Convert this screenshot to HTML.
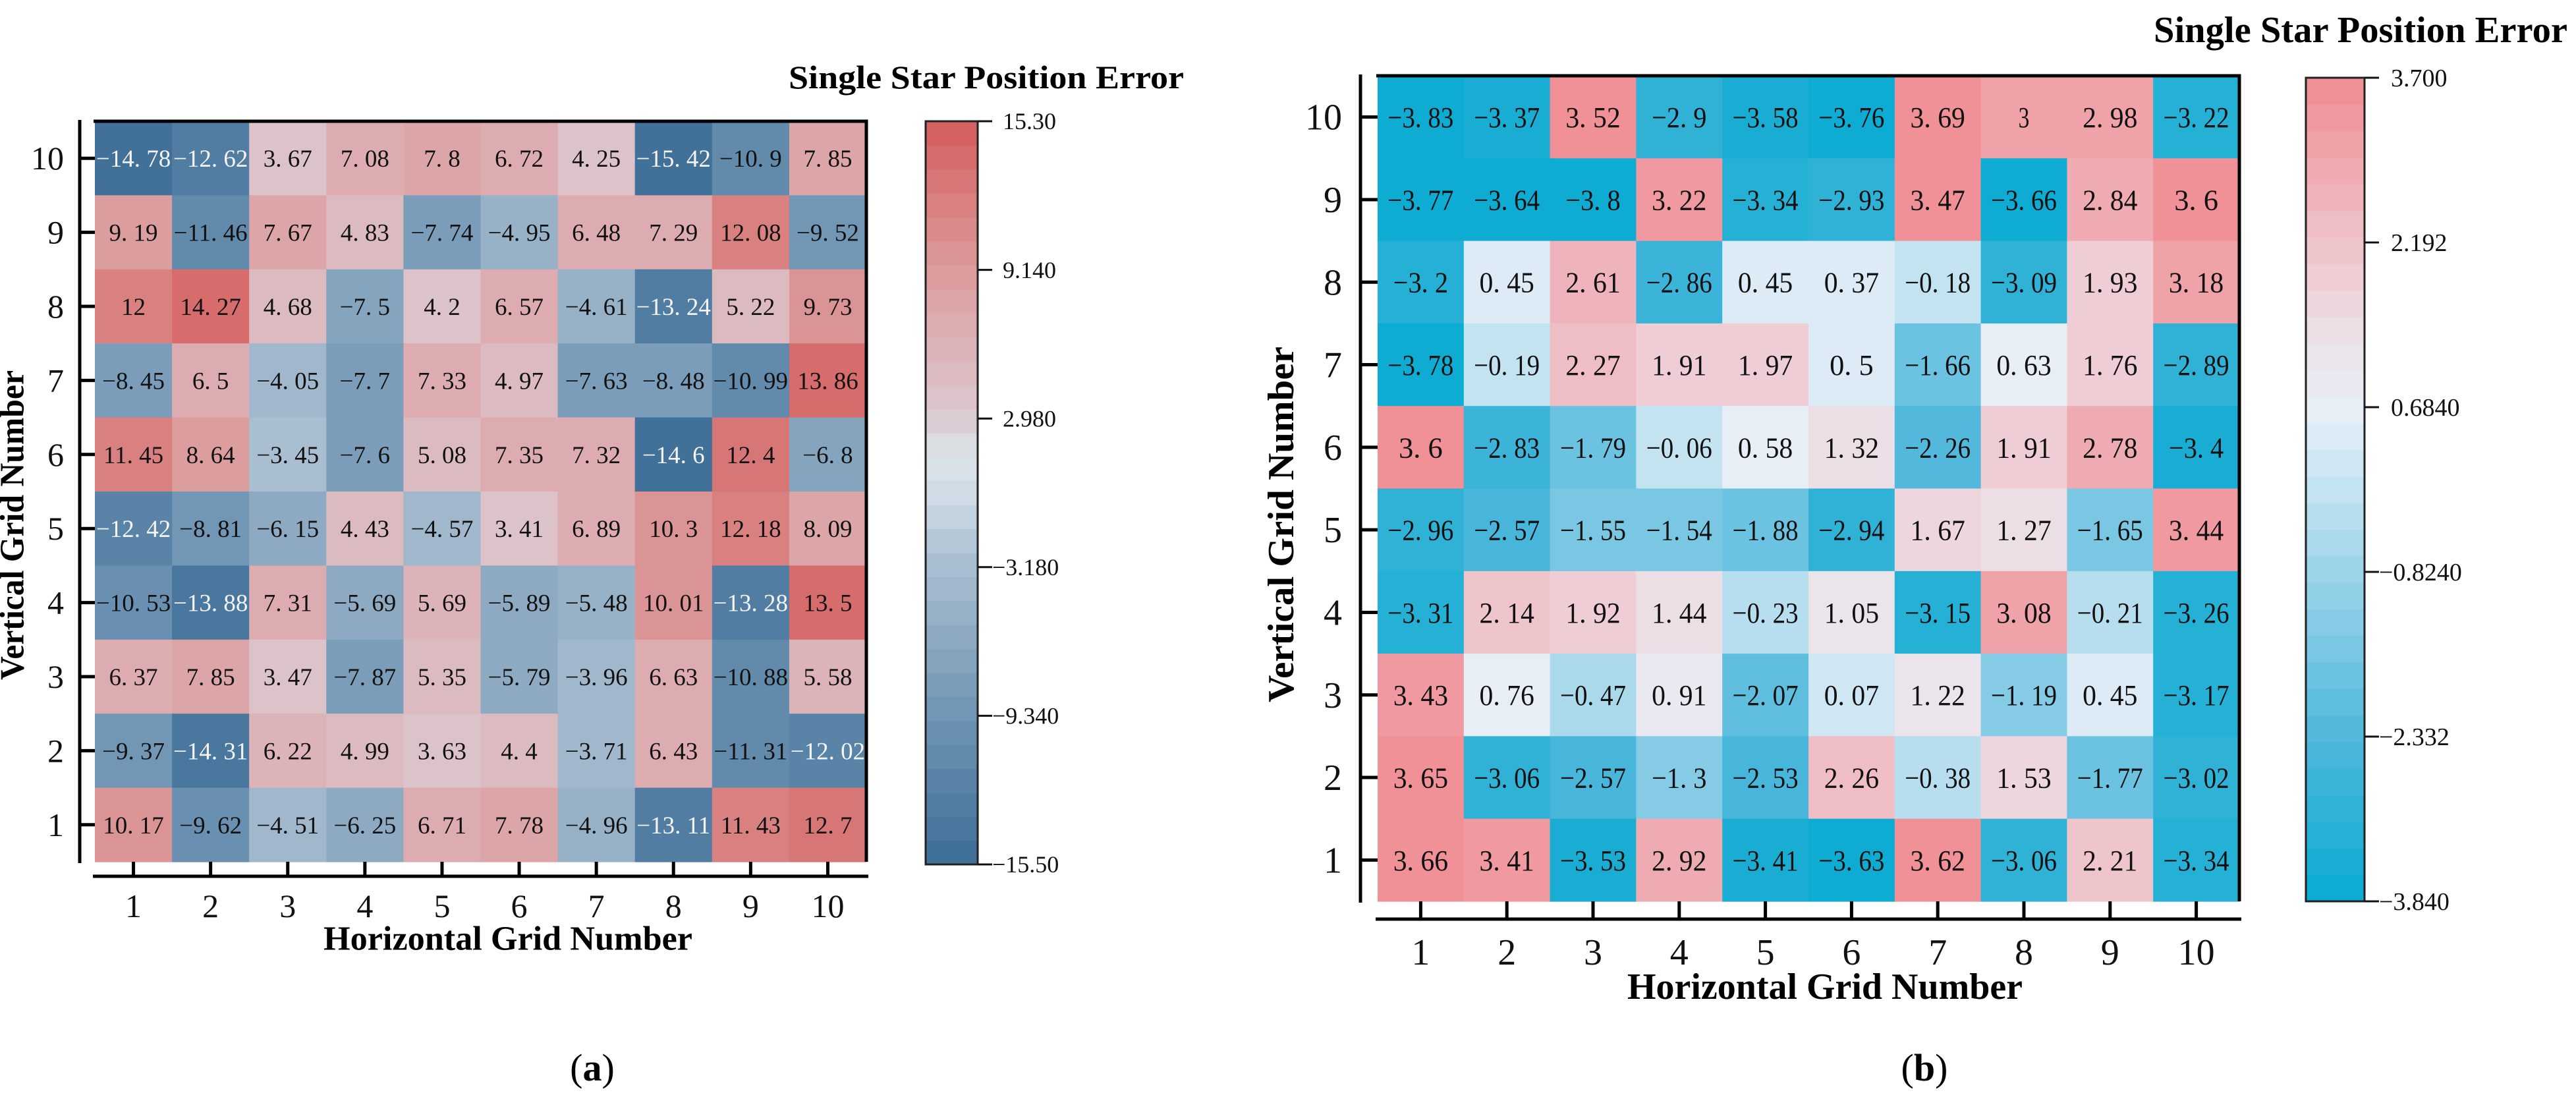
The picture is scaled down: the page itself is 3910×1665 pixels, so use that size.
<!DOCTYPE html>
<html><head><meta charset="utf-8"><style>
html,body{margin:0;padding:0;background:#fff;}
svg{display:block;}
text{font-family:"Liberation Serif",serif;}
</style></head><body>
<svg id="fig" width="3910" height="1665" viewBox="0 0 3910 1665" xmlns="http://www.w3.org/2000/svg">
<g id="chartA"></g>
<g id="chartB"></g>
</svg>
<script>
// ---- Chart (a) data: rows listed from vertical grid 10 down to 1 ----
const colsA = [1,2,3,4,5,6,7,8,9,10];
const rowsA = [10,9,8,7,6,5,4,3,2,1];
const valuesA = [
[-14.78,-12.62,3.67,7.08,7.8,6.72,4.25,-15.42,-10.9,7.85],
[9.19,-11.46,7.67,4.83,-7.74,-4.95,6.48,7.29,12.08,-9.52],
[12,14.27,4.68,-7.5,4.2,6.57,-4.61,-13.24,5.22,9.73],
[-8.45,6.5,-4.05,-7.7,7.33,4.97,-7.63,-8.48,-10.99,13.86],
[11.45,8.64,-3.45,-7.6,5.08,7.35,7.32,-14.6,12.4,-6.8],
[-12.42,-8.81,-6.15,4.43,-4.57,3.41,6.89,10.3,12.18,8.09],
[-10.53,-13.88,7.31,-5.69,5.69,-5.89,-5.48,10.01,-13.28,13.5],
[6.37,7.85,3.47,-7.87,5.35,-5.79,-3.96,6.63,-10.88,5.58],
[-9.37,-14.31,6.22,4.99,3.63,4.4,-3.71,6.43,-11.31,-12.02],
[10.17,-9.62,-4.51,-6.25,6.71,7.78,-4.96,-13.11,11.43,12.7]
];
const cbTicksA = [15.30,9.140,2.980,-3.180,-9.340,-15.50];
const cbLabelsA = ["15.30","9.140","2.980","\u22123.180","\u22129.340","\u221215.50"];

// ---- Chart (b) data ----
const colsB = [1,2,3,4,5,6,7,8,9,10];
const rowsB = [10,9,8,7,6,5,4,3,2,1];
const valuesB = [
[-3.83,-3.37,3.52,-2.9,-3.58,-3.76,3.69,3,2.98,-3.22],
[-3.77,-3.64,-3.8,3.22,-3.34,-2.93,3.47,-3.66,2.84,3.6],
[-3.2,0.45,2.61,-2.86,0.45,0.37,-0.18,-3.09,1.93,3.18],
[-3.78,-0.19,2.27,1.91,1.97,0.5,-1.66,0.63,1.76,-2.89],
[3.6,-2.83,-1.79,-0.06,0.58,1.32,-2.26,1.91,2.78,-3.4],
[-2.96,-2.57,-1.55,-1.54,-1.88,-2.94,1.67,1.27,-1.65,3.44],
[-3.31,2.14,1.92,1.44,-0.23,1.05,-3.15,3.08,-0.21,-3.26],
[3.43,0.76,-0.47,0.91,-2.07,0.07,1.22,-1.19,0.45,-3.17],
[3.65,-3.06,-2.57,-1.3,-2.53,2.26,-0.38,1.53,-1.77,-3.02],
[3.66,3.41,-3.53,2.92,-3.41,-3.63,3.62,-3.06,2.21,-3.34]
];
const cbTicksB = [3.700,2.192,0.6840,-0.8240,-2.332,-3.840];
const cbLabelsB = ["3.700","2.192","0.6840","\u22120.8240","\u22122.332","\u22123.840"];

const NS = "http://www.w3.org/2000/svg";
function mk(parent, tag, attrs){
  const e = document.createElementNS(NS, tag);
  for (const k in attrs) e.setAttribute(k, attrs[k]);
  parent.appendChild(e);
  return e;
}
function hex(h){return [parseInt(h.slice(1,3),16),parseInt(h.slice(3,5),16),parseInt(h.slice(5,7),16)];}
function interp(stops, t){
  for (let i=0;i<stops.length-1;i++){
    const a=stops[i], b=stops[i+1];
    if (t<=b[0]){
      const f=(t-a[0])/(b[0]-a[0]);
      const ca=hex(a[1]), cb=hex(b[1]);
      return "rgb("+ca.map((c,j)=>Math.round(c+(cb[j]-c)*f)).join(",")+")";
    }
  }
  return stops[stops.length-1][1];
}
function fmt(v){ let s=String(Math.abs(v)).replace(".", ". "); return (v<0?"\u2212":"")+s; }

function drawChart(g, cfg){
  const {cols, rows, vals, vmin, vmax, stops, nb} = cfg;
  const L=cfg.left, T=cfg.top, W=cfg.w, H=cfg.h;
  const cw=W/cols.length, rh=H/rows.length;
  const xc = i => L + cw*(i+0.5);
  const yc = j => T + rh*(j+0.5);
  const q = v => { let k=Math.floor((v-vmin)/(vmax-vmin)*nb); k=Math.max(0,Math.min(nb-1,k)); return (k+0.5)/nb; };
  const cells = mk(g,"g",{});
  
  
  rows.forEach((r,j)=>{
    cols.forEach((c,i)=>{
      const v = vals[j][i];
      const rc = mk(cells,"rect",{x:L+cw*i,y:T+rh*j,width:cw+0.6,height:rh+0.6,fill:interp(stops,q(v))});
      
      
      const tx = mk(cells,"text",{x:xc(i),y:yc(j)+cfg.cellFs*0.35,"text-anchor":"middle","font-size":cfg.cellFs,fill:(cfg.white && v<=cfg.white)?"#f4f4f4":"#111"});
      if (cfg.cellLen) { tx.setAttribute("textLength", Math.min(cfg.cellLen*fmt(v).length/6, cw-6)); tx.setAttribute("lengthAdjust","spacingAndGlyphs"); }
      tx.textContent = fmt(v);
      
      
    });
  });
  const fr = mk(g,"path",{d:`M${L-2} ${T} H${L+W} V${T+H}`,stroke:"#000","stroke-width":5,fill:"none"});
  
  
  const ya = mk(g,"line",{x1:cfg.yAxisX,y1:T-2,x2:cfg.yAxisX,y2:T+H+2,stroke:"#000","stroke-width":5});
  
  
  rows.forEach((r,j)=>{
    const tk = mk(g,"line",{x1:cfg.yAxisX,y1:yc(j),x2:L,y2:yc(j),stroke:"#000","stroke-width":5});
    
    
    const t = mk(g,"text",{x:cfg.yLabX,y:yc(j)+cfg.tickFs*0.34,"text-anchor":"end","font-size":cfg.tickFs,fill:"#111"});
    t.textContent = r;
    
    
  });
  const xa = mk(g,"line",{x1:L-3,y1:cfg.xAxisY,x2:L+W+3,y2:cfg.xAxisY,stroke:"#000","stroke-width":5});
  
  
  cols.forEach((c,i)=>{
    const tk = mk(g,"line",{x1:xc(i),y1:T+H,x2:xc(i),y2:cfg.xAxisY,stroke:"#000","stroke-width":5});
    
    
    const t = mk(g,"text",{x:xc(i),y:cfg.xLabY+cfg.tickFs*0.34,"text-anchor":"middle","font-size":cfg.tickFs,fill:"#111"});
    t.textContent = c;
    
    
  });
  const xt = mk(g,"text",{x:cfg.xTitle[0],y:cfg.xTitle[1]+cfg.titleFs*0.34,"text-anchor":"middle","font-size":cfg.titleFs,"font-weight":"bold",textLength:cfg.xTitle[2],lengthAdjust:"spacingAndGlyphs"});
  xt.textContent = "Horizontal Grid Number";
  
  
  const yt = mk(g,"text",{x:0,y:0,transform:`translate(${cfg.yTitle[0]+cfg.titleFs*0.34},${cfg.yTitle[1]}) rotate(-90)`,"text-anchor":"middle","font-size":cfg.titleFs,"font-weight":"bold",textLength:cfg.yTitle[2],lengthAdjust:"spacingAndGlyphs"});
  yt.textContent = "Vertical Grid Number";
  
  
  const cb = cfg.cb;
  const cbg = mk(g,"g",{});
  
  
  const bh=(cb.b-cb.t)/nb;
  for(let k=0;k<nb;k++){
    const r = mk(cbg,"rect",{x:cb.l,y:cb.b-bh*(k+1),width:cb.r-cb.l,height:bh+0.6,fill:interp(stops,(k+0.5)/nb)});
    
    
  }
  const cbo = mk(cbg,"rect",{x:cb.l,y:cb.t,width:cb.r-cb.l,height:cb.b-cb.t,fill:"none",stroke:"#222","stroke-width":3});
  
  
  const cy = v => cb.b - (v-vmin)/(vmax-vmin)*(cb.b-cb.t);
  cfg.cbTicks.forEach((v,k)=>{
    const tk = mk(cbg,"line",{x1:cb.r,y1:cy(v),x2:cb.r+22,y2:cy(v),stroke:"#111","stroke-width":3});
    
    
    const neg = cfg.cbLabels[k].charAt(0)==="\u2212";
    const t = mk(cbg,"text",{x:cb.r+(neg?22:cb.lab),y:cy(v)+cb.fs*0.34,"font-size":cb.fs,fill:"#111"});
    t.textContent = cfg.cbLabels[k];
    
    
  });
  const ct = mk(g,"text",{x:cfg.cbTitle[0],y:cfg.cbTitle[1]+cfg.cbTitle[3]*0.34,"font-size":cfg.cbTitle[3],"font-weight":"bold",textLength:cfg.cbTitle[2],lengthAdjust:"spacingAndGlyphs"});
  ct.textContent = "Single Star Position Error";
  
  
  const pl = mk(g,"text",{x:cfg.panel[0],y:cfg.panel[1]+20,"text-anchor":"middle","font-size":58});
  pl.innerHTML = '(<tspan font-weight="bold">'+cfg.panel[2]+'</tspan>)';
  
  
}

const stopsA = [[0,"#3d6d97"],[0.2,"#6f95b3"],[0.4,"#a9bdd0"],[0.52,"#d6e2e9"],[0.58,"#dcdce1"],[0.6,"#dcc9d0"],[0.8,"#dc9b9d"],[1,"#d45d5b"]];
const stopsB = [[0,"#08aad2"],[0.2,"#4fb8db"],[0.4,"#9dd4ea"],[0.55,"#d6eaf4"],[0.6,"#e9eef6"],[0.68,"#ebe1e8"],[0.8,"#efc3ca"],[1,"#f08c93"]];

drawChart(document.getElementById("chartA"), {
  cols:colsA, rows:rowsA, vals:valuesA, vmin:-15.5, vmax:15.3, stops:stopsA, nb:31,
  left:144, top:184, w:1171, h:1124, cellFs:37, white:-11.9,
  yAxisX:121, yLabX:97, xAxisY:1330, xLabY:1375, tickFs:50, titleFs:52,
  xTitle:[771,1424,560], yTitle:[18,797,470],
  cb:{l:1405,r:1484,t:184,b:1312,fs:36,lab:38}, cbTicks:cbTicksA, cbLabels:cbLabelsA,
  cbTitle:[1197,117,600,50], panel:[899,1620,"a"]
});
drawChart(document.getElementById("chartB"), {
  cols:colsB, rows:rowsB, vals:valuesB, vmin:-3.84, vmax:3.7, stops:stopsB, nb:31,
  left:2091, top:115, w:1308, h:1253, cellFs:44, white:null, cellLen:100,
  yAxisX:2065, yLabX:2037, xAxisY:1395, xLabY:1445, tickFs:56, titleFs:56,
  xTitle:[2770,1497,600], yTitle:[1944,796,540],
  cb:{l:3500,r:3589,t:118,b:1368,fs:38,lab:40}, cbTicks:cbTicksB, cbLabels:cbLabelsB,
  cbTitle:[3269,45,628,56], panel:[2921,1620,"b"]
});
</script>
</body></html>
